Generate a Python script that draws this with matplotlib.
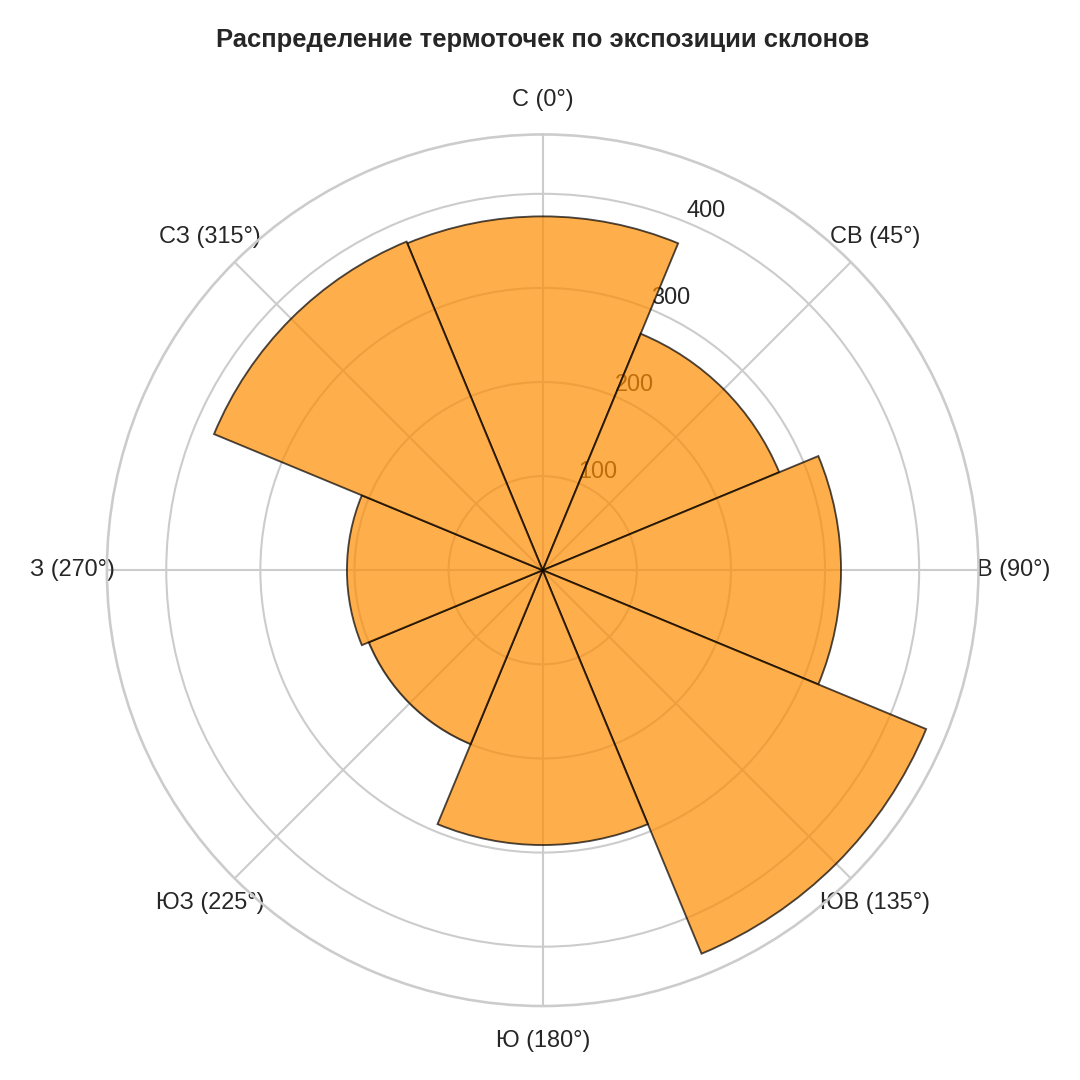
import numpy as np
import matplotlib
matplotlib.use("Agg")
import matplotlib.pyplot as plt
import seaborn as sns

# данные: число термоточек по экспозиции склонов
directions = ["С (0°)", "СВ (45°)", "В (90°)", "ЮВ (135°)",
              "Ю (180°)", "ЮЗ (225°)", "З (270°)", "СЗ (315°)"]
angles_deg = [0, 45, 90, 135, 180, 225, 270, 315]
counts = [376, 272, 317, 441, 292, 200, 208, 378]


def main():
    sns.set_theme(style="whitegrid")
    plt.rcParams['font.family'] = ['Liberation Sans', 'DejaVu Sans']

    fig = plt.figure(figsize=(7.2, 7.2), dpi=150)
    ax = fig.add_axes([0.099, 0.0685, 0.807, 0.807], projection='polar')
    ax.set_theta_zero_location('N')
    ax.set_theta_direction(-1)

    theta = np.deg2rad(angles_deg)
    ax.bar(theta, counts, width=np.deg2rad(45), color='darkorange',
           edgecolor='black', linewidth=0.9, alpha=0.7, zorder=3)

    ax.set_xticks(theta)
    ax.set_xticklabels(directions, fontsize=11.3, color='.15')
    ax.tick_params(axis='x', pad=3.7)
    ax.set_yticks([100, 200, 300, 400])
    ax.tick_params(axis='y', labelsize=11.3, labelcolor='.15')
    ax.set_axisbelow(True)

    ax.set_title("Распределение термоточек по экспозиции склонов",
                 fontsize=12.3, fontweight='bold', color='.15', pad=42)

    fig.savefig('out.png', dpi=150)


if __name__ == "__main__":
    main()
